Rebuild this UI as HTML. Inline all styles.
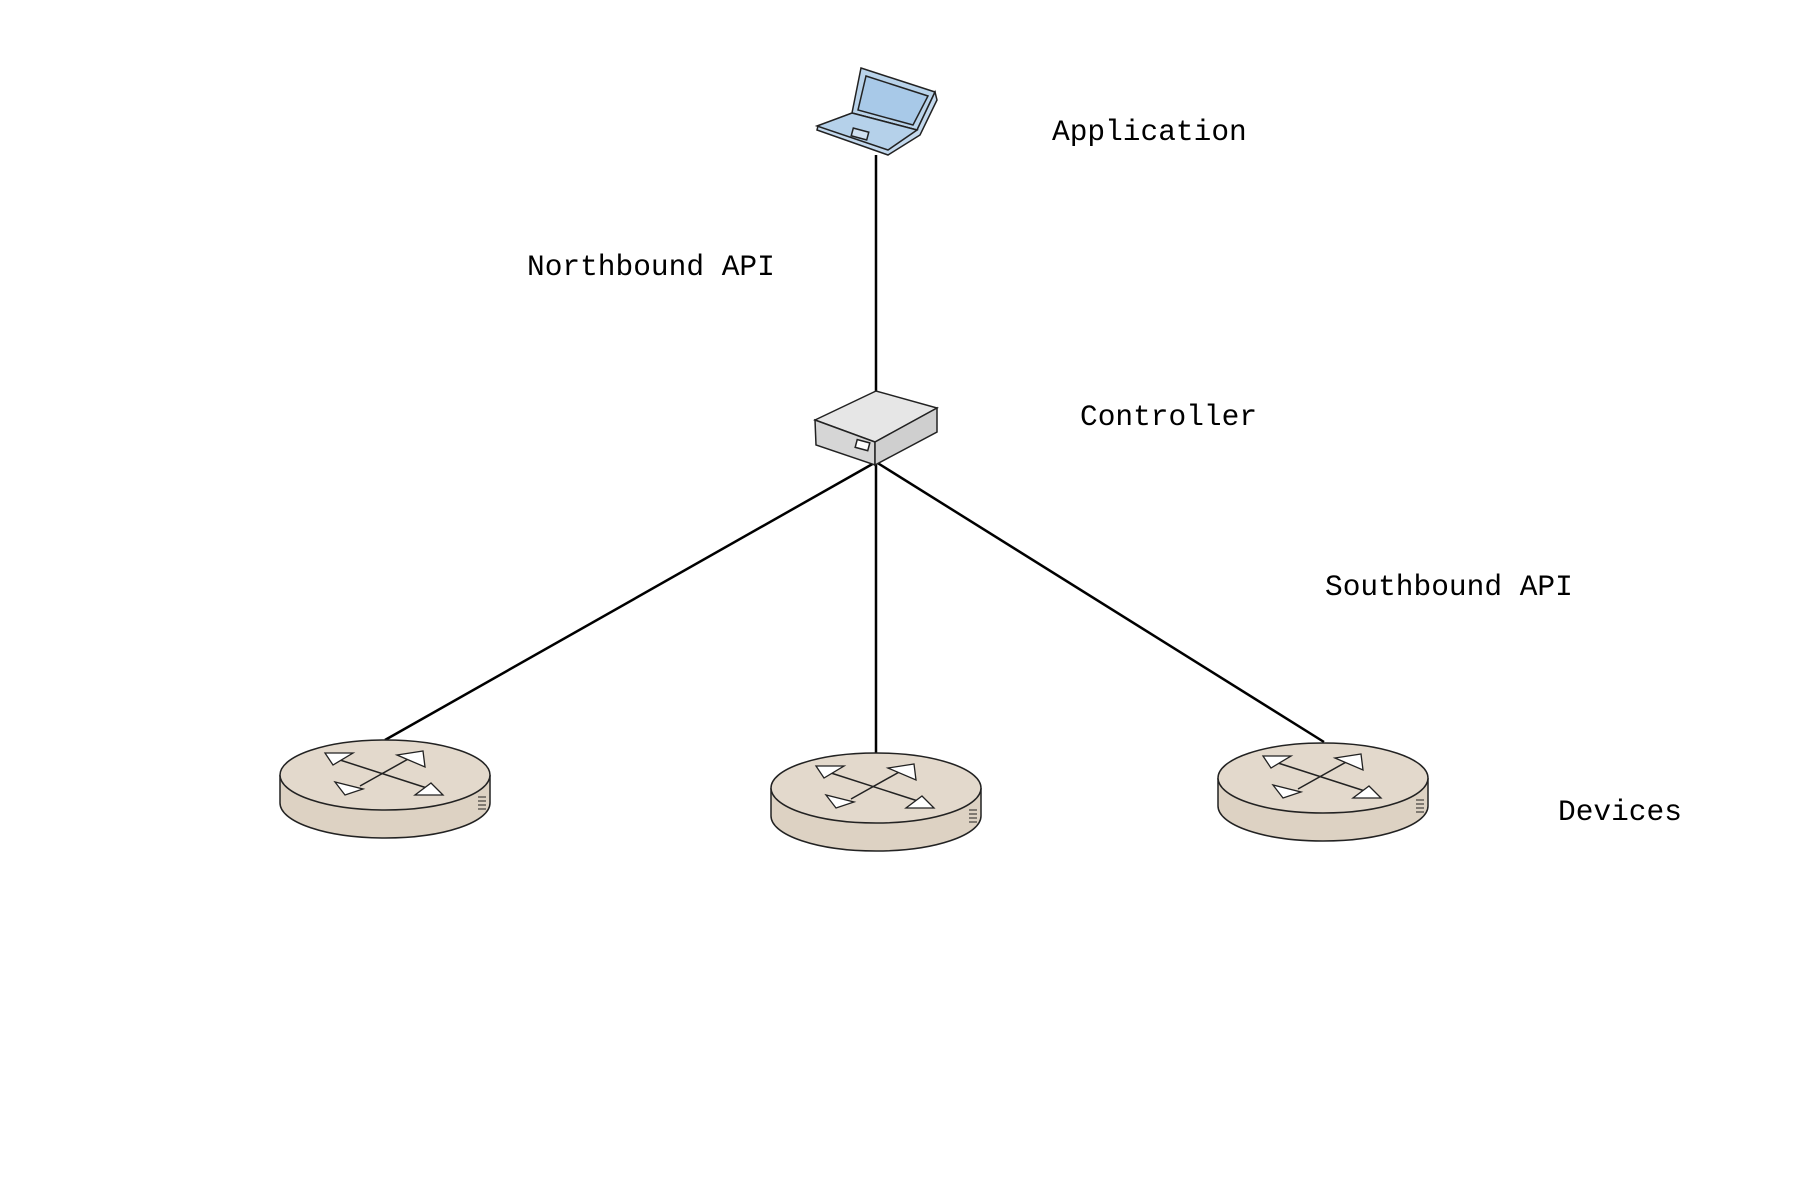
<!DOCTYPE html>
<html><head><meta charset="utf-8"><style>
html,body{margin:0;padding:0;background:#fff;}
svg{display:block;}
text{font-family:"Liberation Mono",monospace;font-size:29.5px;fill:#000;}
</style></head><body>
<svg width="1800" height="1200" viewBox="0 0 1800 1200">
<defs>
<g id="router">
  <path d="M-105,0 L-105,28 A105,35 0 0 0 105,28 L105,0" fill="#ddd2c3" stroke="#222" stroke-width="1.5"/>
  <ellipse cx="0" cy="0" rx="105" ry="35" fill="#e3d9cc" stroke="#222" stroke-width="1.5"/>
  <line x1="-45" y1="-15" x2="45" y2="14" stroke="#222" stroke-width="1.5"/>
  <line x1="25" y1="-17" x2="-25" y2="11" stroke="#222" stroke-width="1.5"/>
  <polygon points="-60,-22 -32,-22 -52,-10" fill="#fff" stroke="#222" stroke-width="1.3"/>
  <polygon points="12,-20 38,-24 40,-8" fill="#fff" stroke="#222" stroke-width="1.3"/>
  <polygon points="-50,7 -40,20 -22,14" fill="#fff" stroke="#222" stroke-width="1.3"/>
  <polygon points="30,20 58,20 46,8" fill="#fff" stroke="#222" stroke-width="1.3"/>
  <path d="M93,22 h8 M93,26 h8 M93,30 h8 M93,34 h8" stroke="#222" stroke-width="1"/>
</g>
</defs>
<!-- lines -->
<line x1="876" y1="155" x2="876" y2="392" stroke="#000" stroke-width="2.5"/>
<line x1="876" y1="462" x2="385" y2="740" stroke="#000" stroke-width="2.5"/>
<line x1="876" y1="462" x2="876" y2="754" stroke="#000" stroke-width="2.5"/>
<line x1="876" y1="462" x2="1324" y2="742" stroke="#000" stroke-width="2.5"/>
<!-- laptop -->
<g stroke="#222" stroke-width="1.5">
  <polygon points="861,68 935,92 917,130 852,113" fill="#b9d3ea"/>
  <polygon points="866,76 928,96 913,125 858,110" fill="#a8c9e8"/>
  <polygon points="852,113 917,130 935,92 937,100 920,135 888,155 817,130 818,126" fill="#c3d9ee"/>
  <polygon points="817,126 852,113 917,130 888,150" fill="#b5d1ea"/>
  <rect x="852" y="130" width="16" height="8" fill="#cfe0f0" transform="rotate(15 860 134)"/>
</g>
<!-- controller -->
<g stroke="#222" stroke-width="1.5">
  <polygon points="815,420 876,391 937,408 875,442" fill="#e6e6e6"/>
  <polygon points="815,420 875,442 875,465 816,445" fill="#d6d6d6"/>
  <polygon points="875,442 937,408 937,432 875,465" fill="#cfcfcf"/>
  <rect x="856" y="441" width="13" height="8" fill="#fff" transform="rotate(15 862 445)"/>
</g>
<!-- routers -->
<use href="#router" x="385" y="775"/>
<use href="#router" x="876" y="788"/>
<use href="#router" x="1323" y="778"/>
<!-- labels -->
<text x="1052" y="140">Application</text>
<text x="527" y="275">Northbound API</text>
<text x="1080" y="425">Controller</text>
<text x="1325" y="595">Southbound API</text>
<text x="1558" y="820">Devices</text>
</svg>
</body></html>
